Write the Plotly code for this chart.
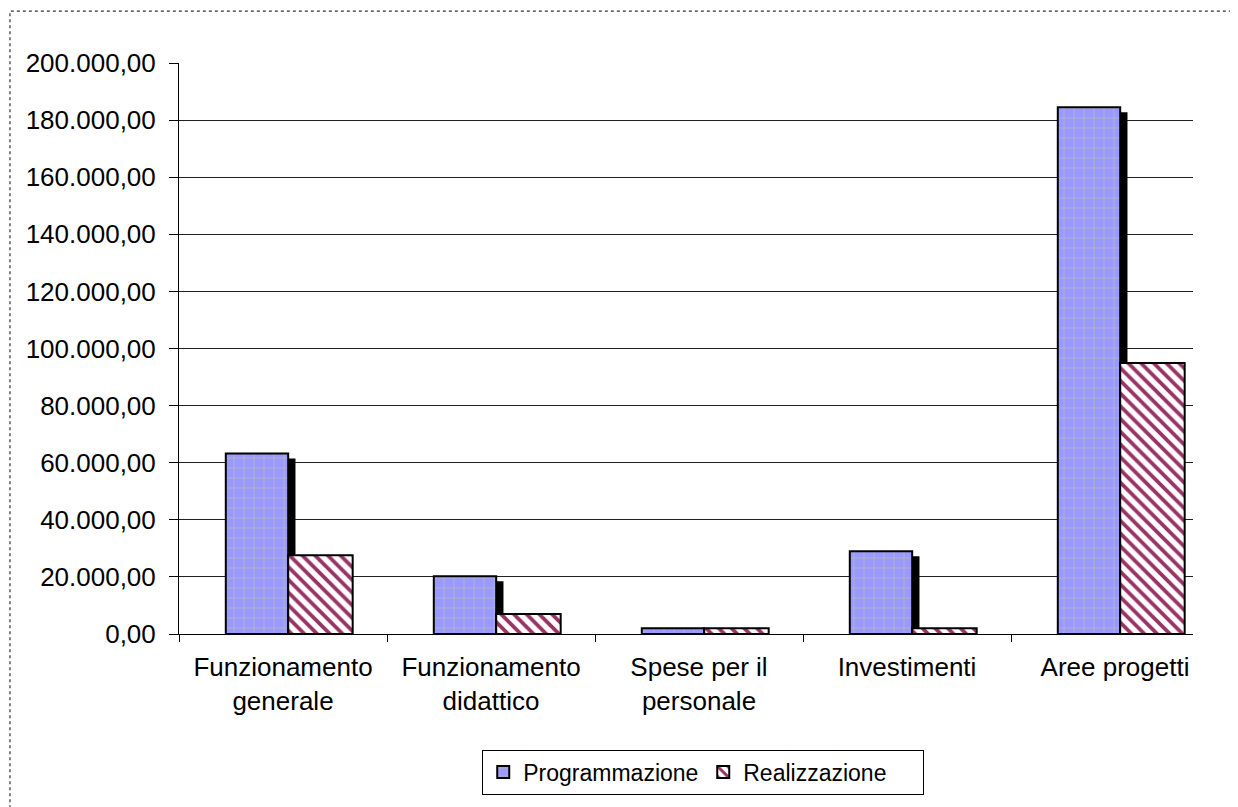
import plotly.graph_objects as go

categories = ["Funzionamento<br>generale", "Funzionamento<br>didattico", "Spese per il<br>personale",
              "Investimenti", "Aree progetti"]
programmazione = [63200, 20200, 2000, 29000, 184500]
realizzazione = [27600, 7000, 2000, 2000, 94900]
y_ticks = [0, 20000, 40000, 60000, 80000, 100000, 120000, 140000, 160000, 180000, 200000]

FONT = "Liberation Sans, Arial, sans-serif"
BAR_W = 0.30
SHADOW_DX = 0.035      # horizontal shift of the 3D shadow (category units)
SHADOW_DOWN = 1750     # shadow top drop (data units)
SHADOW_BELOW = 1400    # shadow extension under the baseline (data units)

fig = go.Figure()

# 3D-style shadow behind the Programmazione bars
fig.add_trace(go.Bar(
    x=categories,
    y=[v - SHADOW_DOWN + SHADOW_BELOW for v in programmazione],
    base=-SHADOW_BELOW,
    offset=-BAR_W + 0.025 + SHADOW_DX,
    width=BAR_W,
    marker=dict(color="black", line=dict(width=0)),
    showlegend=False, hoverinfo="skip",
))

fig.add_trace(go.Bar(
    name="Programmazione",
    x=categories, y=programmazione,
    offset=-BAR_W + 0.025, width=BAR_W,
    marker=dict(
        color="#9999FF",
        line=dict(color="black", width=2),
        pattern=dict(shape="+", fgcolor="#BDBDB0", bgcolor="#9999FF", fgopacity=1,
                     size=10, solidity=0.12, fillmode="overlay"),
    ),
))

fig.add_trace(go.Bar(
    name="Realizzazione",
    x=categories, y=realizzazione,
    offset=0.025, width=BAR_W + 0.01,
    marker=dict(
        color="white",
        line=dict(color="black", width=2),
        pattern=dict(shape="\\", fgcolor="#993366", bgcolor="white", fgopacity=1,
                     size=9, solidity=0.42, fillmode="overlay"),
    ),
))

# outer dotted frame of the chart area
fig.add_shape(type="rect", xref="paper", yref="paper",
              x0=-0.1667, x1=1.0414, y0=-0.31, y1=1.0908,
              line=dict(color="#333333", width=1.2, dash="dot"))

fig.update_layout(
    width=1230, height=799,
    margin=dict(l=171, r=45, t=55, b=171),
    paper_bgcolor="white", plot_bgcolor="white",
    barmode="overlay",
    separators=",.",
    font=dict(family=FONT, size=26, color="black"),
    showlegend=True,
    legend=dict(
        orientation="h",
        x=0.517, xanchor="center",
        y=-0.2024, yanchor="top",
        bordercolor="black", borderwidth=1,
        font=dict(family=FONT, size=23, color="black"),
        entrywidth=175,
        itemwidth=30,
        traceorder="normal",
    ),
    xaxis=dict(
        range=[-0.5, 4.375],
        showline=True, linecolor="black", linewidth=1,
        ticks="outside", tickson="boundaries", ticklen=7, tickcolor="black",
        ticklabelstandoff=10,
        showgrid=False, zeroline=False,
        tickfont=dict(family=FONT, size=26, color="black"),
    ),
    yaxis=dict(
        range=[0, 200000],
        tickvals=y_ticks,
        tickformat=",.2f",
        showline=True, linecolor="black", linewidth=1,
        ticks="outside", ticklen=9, tickcolor="black",
        ticklabelstandoff=8,
        showgrid=True, gridcolor="#222222", gridwidth=1,
        zeroline=False,
        tickfont=dict(family=FONT, size=26, color="black"),
    ),
)

fig.write_html("out.html")
